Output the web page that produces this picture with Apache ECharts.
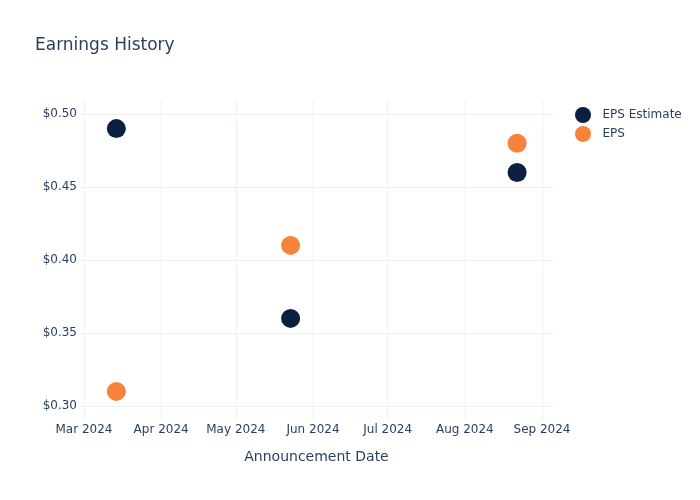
<!DOCTYPE html>
<html>
<head>
<meta charset="utf-8">
<script src="https://cdn.jsdelivr.net/npm/echarts@6/dist/echarts.min.js"></script>
<style>html,body{margin:0;padding:0;background:#fff}#chart{width:700px;height:500px}</style>
</head>
<body>
<div id="chart"></div>
<script>
const dates = ['2024-03-14', '2024-05-23', '2024-08-22'];
const epsEstimate = [0.49, 0.36, 0.46];
const eps = [0.31, 0.41, 0.48];
const xTickDates = ['2024-03-01', '2024-04-01', '2024-05-01', '2024-06-01', '2024-07-01', '2024-08-01', '2024-09-01'];
const xTickLabels = ['Mar 2024', 'Apr 2024', 'May 2024', 'Jun 2024', 'Jul 2024', 'Aug 2024', 'Sep 2024'];
const yTicks = [0.30, 0.35, 0.40, 0.45, 0.50];
const yTickLabels = ['$0.30', '$0.35', '$0.40', '$0.45', '$0.50'];
const xRange = ['2024-02-28T09:30:00', '2024-09-05T10:00:00'];
const yRange = [0.2904, 0.5096];

function ts(s) { return new Date(s.length === 10 ? s + 'T00:00:00' : s).getTime(); }
const xTickTs = xTickDates.map(ts);

const textColor = '#2a3f5f';
const gridColor = '#eef1f8';
const font = '"DejaVu Sans", sans-serif';
const chart = echarts.init(document.getElementById('chart'), null, {renderer: 'canvas'});
chart.setOption({
  animation: false,
  backgroundColor: '#fff',
  textStyle: {fontFamily: font},
  title: {
    text: 'Earnings History', left: 30, top: 32,
    textStyle: {fontSize: 17, fontWeight: 'normal', color: textColor, fontFamily: font}
  },
  legend: {
    left: 570, top: 102, orient: 'vertical', itemGap: 3,
    itemWidth: 29, itemHeight: 16, icon: 'circle',
    textStyle: {fontSize: 12, color: textColor, fontFamily: font}
  },
  grid: {left: 80, right: 147, top: 100, bottom: 80, containLabel: false},
  xAxis: {
    type: 'value', min: ts(xRange[0]), max: ts(xRange[1]), scale: true,
    name: 'Announcement Date', nameLocation: 'middle', nameGap: 30,
    nameTextStyle: {fontSize: 14, color: textColor, fontFamily: font},
    axisLine: {show: false}, axisTick: {show: false, customValues: xTickTs},
    axisLabel: {
      customValues: xTickTs, fontSize: 12, color: textColor, margin: 4, fontFamily: font,
      formatter: function (v) { const i = xTickTs.indexOf(v); return i >= 0 ? xTickLabels[i] : ''; }
    },
    splitLine: {show: true, lineStyle: {color: gridColor, width: 1}}
  },
  yAxis: {
    type: 'value', min: yRange[0], max: yRange[1],
    axisLine: {show: false}, axisTick: {show: false, customValues: yTicks},
    axisLabel: {
      customValues: yTicks, fontSize: 12, color: textColor, margin: 3, fontFamily: font,
      formatter: function (v) { const i = yTicks.findIndex(t => Math.abs(t - v) < 1e-9); return i >= 0 ? yTickLabels[i] : ''; }
    },
    splitLine: {show: true, lineStyle: {color: gridColor, width: 1}}
  },
  series: [
    {
      name: 'EPS Estimate', type: 'scatter', symbol: 'circle', symbolSize: 19,
      itemStyle: {color: '#0b1f41', opacity: 1},
      data: dates.map((d, i) => [ts(d), epsEstimate[i]])
    },
    {
      name: 'EPS', type: 'scatter', symbol: 'circle', symbolSize: 19,
      itemStyle: {color: '#f7823a', opacity: 1},
      data: dates.map((d, i) => [ts(d), eps[i]])
    }
  ]
});
</script>
</body>
</html>
